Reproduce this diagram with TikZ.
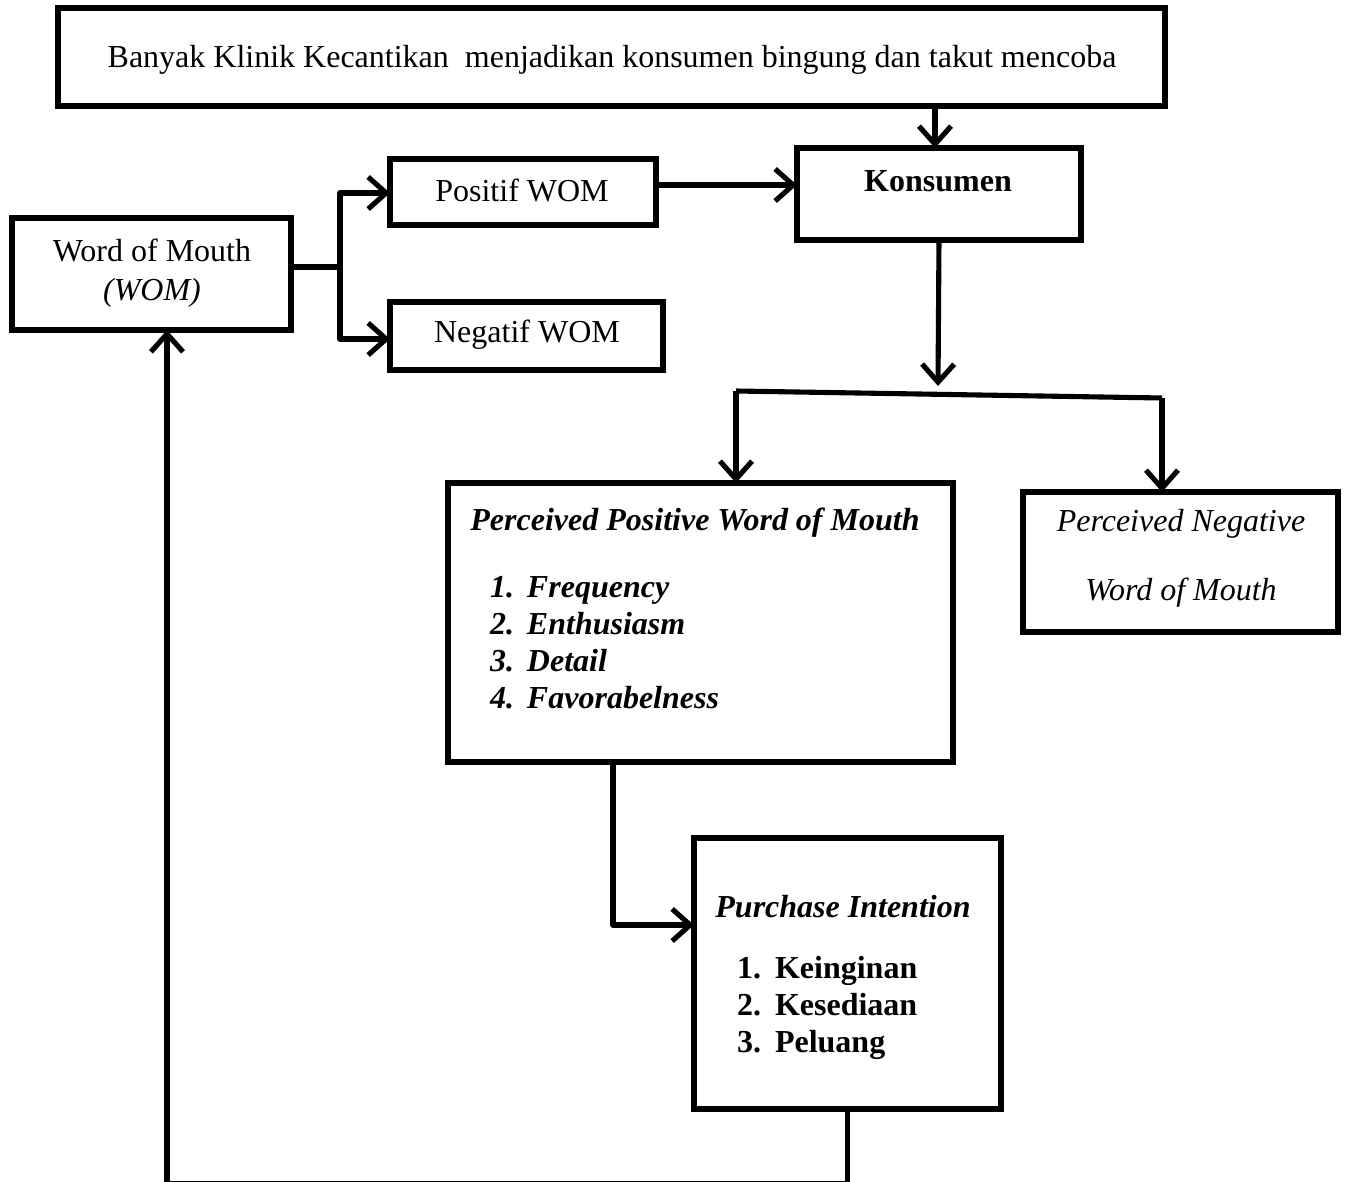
\documentclass[tikz,border=0pt]{standalone}
\usepackage{fontspec}
\setmainfont{Liberation Serif}
\usetikzlibrary{arrows.meta,calc}
\begin{document}
\begin{tikzpicture}[x=0.01cm,y=-0.01cm,
  every node/.style={font=\fontsize{9.1pt}{10.5pt}\selectfont},
  boxnode/.style={draw,line width=1.45pt,rectangle,inner sep=0pt,outer sep=0pt},
  txt/.style={inner sep=0pt,outer sep=0pt},
  conn/.style={line width=1.45pt,line join=round},
  arr/.style={conn,-{Straight Barb[length=1.8mm,width=3.2mm]}}]
\useasboundingbox (0,0) rectangle (1345,1182);
% boxes
\node[boxnode,minimum width=1107*0.01cm,minimum height=98*0.01cm] (top) at (611.5,57) {};
\node[boxnode,minimum width=284*0.01cm,minimum height=92*0.01cm] (kons) at (939,194) {};
\node[boxnode,minimum width=266*0.01cm,minimum height=66*0.01cm] (pos) at (523,192) {};
\node[boxnode,minimum width=273*0.01cm,minimum height=68*0.01cm] (neg) at (526.5,336) {};
\node[boxnode,minimum width=279*0.01cm,minimum height=112*0.01cm] (wom) at (151.5,274) {};
\node[boxnode,minimum width=505*0.01cm,minimum height=279*0.01cm] (ppw) at (700.5,622.5) {};
\node[boxnode,minimum width=315*0.01cm,minimum height=140*0.01cm] (pnw) at (1180.5,562) {};
\node[boxnode,minimum width=307*0.01cm,minimum height=271*0.01cm] (pur) at (847.5,973.5) {};
% texts
\node[txt] (toptxt) at (612,60) {Banyak Klinik Kecantikan\ \ menjadikan konsumen bingung dan takut mencoba};
\node[txt] (konstxt) at (938,181) {\textbf{Konsumen}};
\node[txt] (postxt) at (522,190) {Positif WOM};
\node[txt] (negtxt) at (527,335) {Negatif WOM};
\node[txt] (womtxt1) at (152,250) {Word of Mouth};
\node[txt] (womtxt2) at (152,293) {\textit{(WOM)}};
\node[txt] (ppwtitle) at (695,523) {\textbf{\textit{Perceived Positive Word of Mouth}}};
\node[txt,anchor=west,align=left,font=\fontsize{9.1pt}{10.5pt}\selectfont\bfseries\itshape] (ppwlist) at (490,642.5)
  {\makebox[0.37cm][l]{1.}Frequency\\\makebox[0.37cm][l]{2.}Enthusiasm\\\makebox[0.37cm][l]{3.}Detail\\\makebox[0.37cm][l]{4.}Favorabelness};
\node[txt] (pnw1) at (1181,524) {\textit{Perceived Negative}};
\node[txt] (pnw2) at (1181,593) {\textit{Word of Mouth}};
\node[txt] (purtitle) at (843,907) {\textbf{\textit{Purchase Intention}}};
\node[txt,anchor=west,align=left,font=\fontsize{9.1pt}{10.5pt}\selectfont\bfseries] (purlist) at (737,1007.5)
  {\makebox[0.38cm][l]{1.}Keinginan\\\makebox[0.38cm][l]{2.}Kesediaan\\\makebox[0.38cm][l]{3.}Peluang};
% connectors
\draw[arr] ($(kons.north |- top.south)+(-4,0)$) -- ($(kons.north)+(-4,0)$);
\draw[arr] ($(pos.east)+(0,-7)$) -- ($(pos.east -| kons.west)+(0,-7)$);
\draw[conn] ($(wom.east)+(0,-7)$) -- ++(49,0) coordinate (b1);
\draw[arr] (b1) |- ($(pos.west)+(0,1)$);
\draw[arr] (b1) |- ($(neg.west)+(0,3)$);
\coordinate (kd) at (938,386);
\draw[arr] (kons.south) -- (kd);
\coordinate (bl) at (736,391);
\coordinate (br) at (1162,398);
\draw[conn] (bl) -- (br);
\draw[arr] (bl) -- (bl |- ppw.north);
\draw[arr] (br) -- (br |- pnw.north);
\draw[arr] ($(ppw.south)+(-87.5,0)$) |- ($(pur.west)+(0,-48.5)$);
\draw[arr] (pur.south) -- ($(pur.south |- 0,1183.6)$) -| ($(wom.south)+(15.5,0)$);
\end{tikzpicture}
\end{document}
